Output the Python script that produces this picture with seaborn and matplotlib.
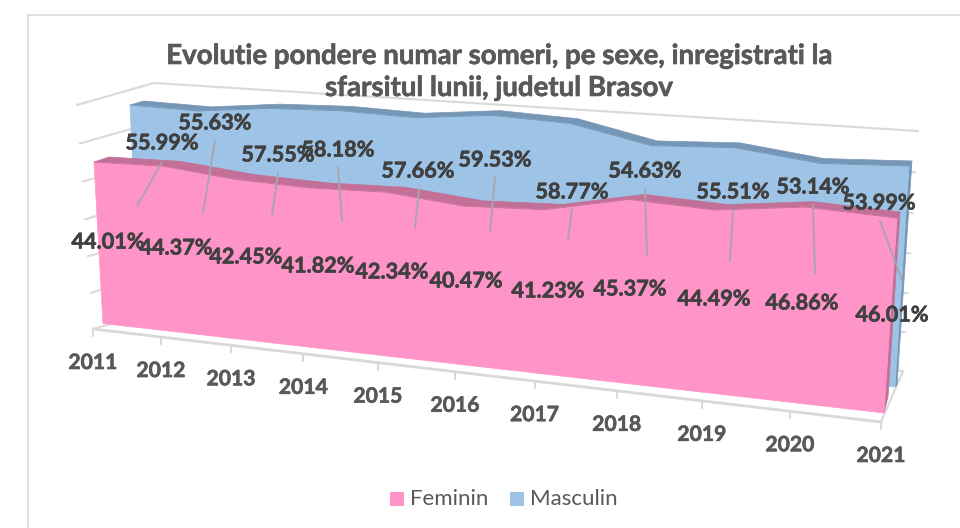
import numpy as np
import pandas as pd
import matplotlib
matplotlib.use("Agg")
import matplotlib.pyplot as plt
import matplotlib.patheffects as pe
from matplotlib.patches import Polygon, Rectangle
import seaborn as sns

years = [2011, 2012, 2013, 2014, 2015, 2016, 2017, 2018, 2019, 2020, 2021]
feminin = [44.01, 44.37, 42.45, 41.82, 42.34, 40.47, 41.23, 45.37, 44.49, 46.86, 46.01]
masculin = [55.99, 55.63, 57.55, 58.18, 57.66, 59.53, 58.77, 54.63, 55.51, 53.14, 53.99]
levels = [0, 10, 20, 30, 40, 50, 60]
title_lines = ["Evolutie pondere numar someri, pe sexe, inregistrati la",
               "sfarsitul lunii, judetul Brasov"]

sns.set_theme(style="white")
plt.rcParams['font.family'] = ['Lato', 'DejaVu Sans']

PINK, PINK_D = "#FF94C8", "#C27098"
BLUE, BLUE_D = "#9DC3E6", "#7596B5"
GREY = "#D9D9D9"
TXT = "#404040"
TXT2 = "#595959"


def heavy(color, w=0.45):
    return [pe.withStroke(linewidth=w, foreground=color)]


def homography(uv, xy):
    A, b = [], []
    for (u, v), (x, y) in zip(uv, xy):
        A.append([u, v, 1, 0, 0, 0, -u * x, -v * x]); b.append(x)
        A.append([0, 0, 0, u, v, 1, -u * y, -v * y]); b.append(y)
    h = np.linalg.solve(np.array(A, float), np.array(b, float))
    H = np.append(h, 1).reshape(3, 3)

    def project(u, v):
        u, v = np.asarray(u, float), np.asarray(v, float)
        w = H[2, 0] * u + H[2, 1] * v + H[2, 2]
        return (H[0, 0] * u + H[0, 1] * v + H[0, 2]) / w, (H[1, 0] * u + H[1, 1] * v + H[1, 2]) / w
    return project


n = len(years) - 1
pink_front = homography([(0, 0), (n, 0), (0, feminin[0]), (n, feminin[-1])],
                        [(103, 323.5), (884, 413), (94, 162), (897, 218)])
pink_back = homography([(0, 0), (n, 0), (0, feminin[0]), (n, feminin[-1])],
                       [(118, 318), (888, 397), (109, 157), (900, 212)])
blue_front = homography([(0, 0), (n, 0), (0, masculin[0]), (n, masculin[-1])],
                        [(139, 306), (895, 387), (130, 105), (909, 166)])
blue_back = homography([(0, 0), (n, 0), (0, masculin[0]), (n, masculin[-1])],
                       [(152, 304), (897, 385), (144, 101), (912, 161)])
wall_front = homography([(0, 0), (n, 0), (0, 60), (n, 60)],
                        [(93, 329), (881, 422), (77, 105), (900, 161)])
wall_back = homography([(0, 0), (n, 0), (0, 60), (n, 60)],
                       [(168, 308), (903, 371), (154, 83), (918, 131)])

fig = plt.figure(figsize=(9.6, 5.28), dpi=100)
ax = fig.add_axes([0, 0, 1, 1])
ax.set_xlim(0, 960)
ax.set_ylim(528, 0)
ax.axis("off")

# chart frame: only the top and left edges fall inside the picture
ax.plot([27.5, 960], [14.5, 14.5], color=GREY, lw=1.2, zorder=1)
ax.plot([27.5, 27.5], [14.5, 528], color=GREY, lw=1.2, zorder=1)

U = np.arange(len(years))
# walls and floor
for L in levels:
    x0, y0 = wall_front(0, L)
    x1, y1 = wall_back(0, L)
    x2, y2 = wall_back(n, L)
    ax.plot([x0, x1, x2], [y0, y1, y2], color=GREY, lw=1.5, solid_joinstyle="miter", zorder=1)
fx, fy = wall_front(U, 0)
ax.plot(fx, fy, color=GREY, lw=2, zorder=1)
bx, by = wall_back(n, 0)
ax.plot([fx[-1], bx], [fy[-1], by], color=GREY, lw=1.5, zorder=1)
for x, y in zip(fx, fy):
    ax.plot([x, x], [y, y + 7], color=GREY, lw=1.5, zorder=1)


def area3d(values, front, back, col, dark, z):
    values = np.asarray(values)
    xf, yf = front(U, values)
    xb, yb = back(U, values)
    xf0, yf0 = front(U, 0 * values)
    xb0, yb0 = back(U, 0 * values)
    ax.add_patch(Polygon(np.r_[np.c_[xf, yf], np.c_[xb, yb][::-1]], fc=dark, ec=dark, lw=0.5, zorder=z))
    ax.add_patch(Polygon([(xf[-1], yf[-1]), (xb[-1], yb[-1]), (xb0[-1], yb0[-1]), (xf0[-1], yf0[-1])],
                         fc=dark, ec=dark, lw=0.5, zorder=z))
    ax.add_patch(Polygon(np.r_[np.c_[xf, yf], [[xf0[-1], yf0[-1]], [xf0[0], yf0[0]]]],
                         fc=col, ec=col, lw=0.5, zorder=z + 0.1))
    return xf, yf


xm, ym = area3d(masculin, blue_front, blue_back, BLUE, BLUE_D, 2)
xp, yp = area3d(feminin, pink_front, pink_back, PINK, PINK_D, 3)

ridge = pd.DataFrame({
    "px": np.r_[xm, xp], "py": np.r_[ym, yp],
    "serie": ["Masculin"] * len(U) + ["Feminin"] * len(U),
})
sns.lineplot(data=ridge[ridge.serie == "Masculin"], x="px", y="py", color=BLUE_D, lw=0.6, sort=False,
             estimator=None, legend=False, ax=ax, zorder=2.2)
sns.lineplot(data=ridge[ridge.serie == "Feminin"], x="px", y="py", color=PINK_D, lw=0.6, sort=False,
             estimator=None, legend=False, ax=ax, zorder=3.2)
ax.set_xlim(0, 960)
ax.set_ylim(528, 0)
ax.axis("off")

# leader lines and data labels
leaders = [((162, 162), (137, 206)), ((215, 141), (203, 213)), ((278, 173), (272, 215)),
           ((338, 167), (342, 221)), ((419, 189), (415, 228)), ((495, 177), (490, 232)),
           ((572, 209), (568, 240)), ((645, 189), (647, 255)), ((733, 210), (730, 261)),
           ((813, 205), (815, 273)), ((880, 221), (902, 280))]
for a, b in leaders:
    ax.plot([a[0], b[0]], [a[1], b[1]], color="#A6A6A6", lw=1.3, zorder=4)

pos_m = [(162, 143), (215, 123), (278, 155), (338, 150), (418, 171), (495, 160),
         (572, 192), (645, 171), (733, 192), (813, 187), (879, 203)]
pos_f = [(108, 242), (176, 248), (246, 257), (318, 266), (392, 272), (466, 281),
         (548, 291), (630, 289), (714, 299), (802, 303), (892, 315)]
for v, (x, y) in zip(masculin, pos_m):
    ax.text(x, y, f"{v:.2f}%", ha="center", va="center", fontsize=15.6, fontweight="bold", color=TXT,
            zorder=5, path_effects=heavy(TXT))
for v, (x, y) in zip(feminin, pos_f):
    ax.text(x, y, f"{v:.2f}%", ha="center", va="center", fontsize=15.6, fontweight="bold", color=TXT,
            zorder=5, path_effects=heavy(TXT))

# category labels
for yr, x, y in zip(years, fx, fy):
    ax.text(x, y + 34, str(yr), ha="center", va="center", fontsize=15.2, fontweight="bold", color=TXT2,
            path_effects=heavy(TXT2))

# title
ax.text(499, 56, title_lines[0], ha="center", va="center", fontsize=19.9, fontweight="bold", color=TXT2,
        path_effects=heavy(TXT2))
ax.text(499, 88, title_lines[1], ha="center", va="center", fontsize=19.9, fontweight="bold", color=TXT2,
        path_effects=heavy(TXT2))

# legend
ax.add_patch(Rectangle((390, 492), 14, 14, fc=PINK, ec="none"))
ax.text(410, 499, "Feminin", ha="left", va="center", fontsize=16, color=TXT2)
ax.add_patch(Rectangle((510, 492), 14, 14, fc=BLUE, ec="none"))
ax.text(530, 499, "Masculin", ha="left", va="center", fontsize=16, color=TXT2)

fig.savefig("out.png", dpi=100, facecolor="white")
